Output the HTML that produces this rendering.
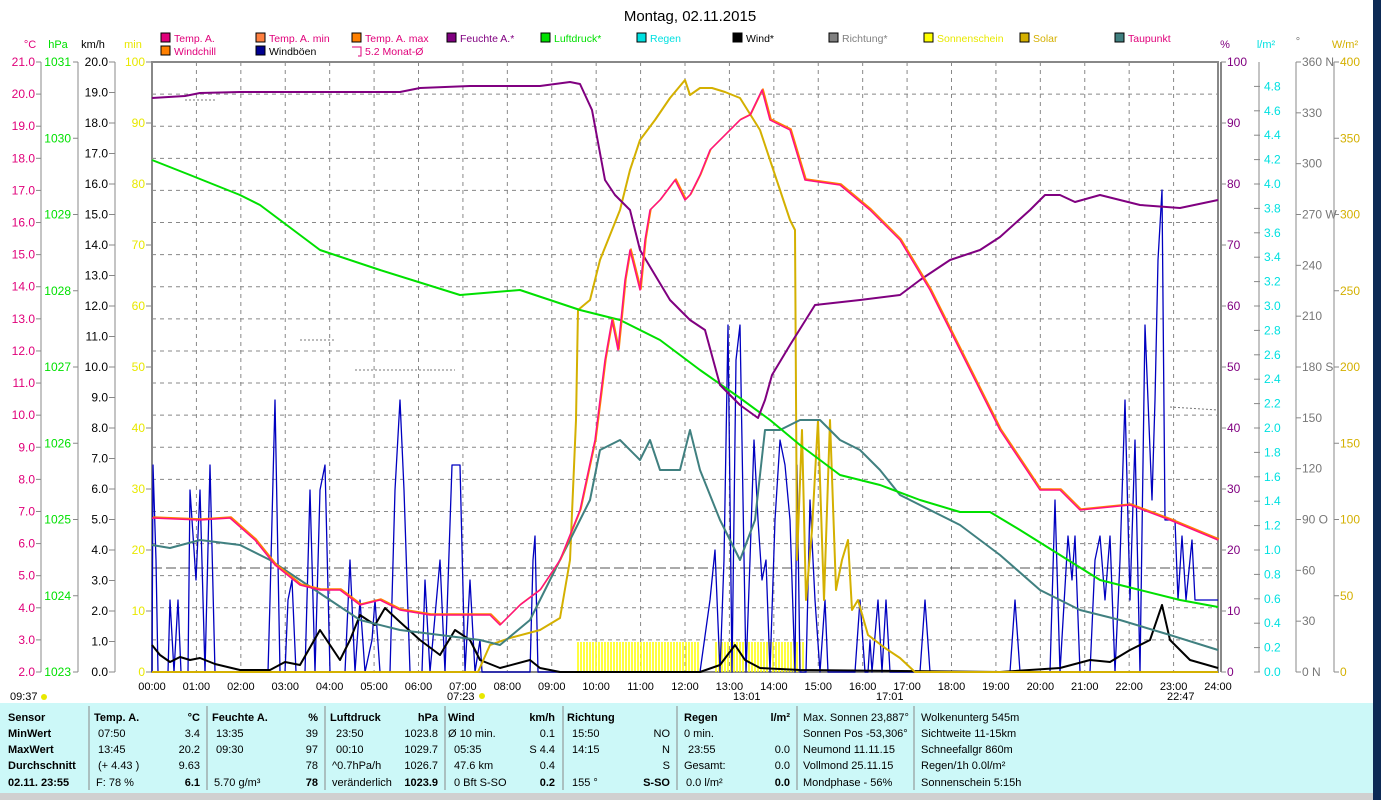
<!DOCTYPE html>
<html><head><meta charset="utf-8"><style>
body{margin:0;width:1381px;height:800px;overflow:hidden;background:#fff;font-family:"Liberation Sans",sans-serif}
svg{display:block}
text{font-family:"Liberation Sans",sans-serif;font-size:11px}
</style></head><body>
<svg id="s" width="1381" height="800" xmlns="http://www.w3.org/2000/svg">
<rect x="0" y="0" width="1381" height="800" fill="#fff"/>
<rect x="1373" y="0" width="8" height="800" fill="#0d2a55"/>
<text x="690" y="21" text-anchor="middle" style="font-size:15px">Montag, 02.11.2015</text>
<g id="g"></g>
</svg>
<script>
const NS="http://www.w3.org/2000/svg",g=document.getElementById('g');
function el(t,a,txt){const e=document.createElementNS(NS,t);for(const k in a)e.setAttribute(k,a[k]);if(txt!==undefined)e.textContent=txt;g.appendChild(e);return e;}
function T(x,y,s,c,anc,extra){return el('text',Object.assign({x:x,y:y,fill:c||'#000','text-anchor':anc||'start'},extra||{}),s);}
const AX={style:'font-size:12px'};
const L=152,R=1218,TOP=62,BOT=672,H=(R-L)/24;
for(let i=1;i<24;i++){const x=L+i*H;el('line',{x1:x,y1:TOP,x2:x,y2:BOT,stroke:'#888','stroke-dasharray':'4,4'});}
for(let i=1;i<19;i++){const y=TOP+i*(BOT-TOP)/19;el('line',{x1:L,y1:y,x2:R,y2:y,stroke:'#888','stroke-dasharray':'4,4'});}
el('line',{x1:L,y1:568,x2:R,y2:568,stroke:'#555','stroke-dasharray':'10,4'});
el('rect',{x:L,y:TOP,width:R-L,height:BOT-TOP,fill:'none',stroke:'#888','stroke-width':2});
el('line',{x1:41,y1:TOP,x2:41,y2:BOT,stroke:'#888'});
for(let i=0;i<=19;i++){const y=TOP+i*(BOT-TOP)/19;el('line',{x1:36,y1:y,x2:41,y2:y,stroke:'#888'});T(35,y+4,(21-i).toFixed(1),'#e0007a','end',AX);}
el('line',{x1:78,y1:TOP,x2:78,y2:BOT,stroke:'#888'});
for(let i=0;i<=8;i++){const y=TOP+i*(BOT-TOP)/8;el('line',{x1:73,y1:y,x2:78,y2:y,stroke:'#888'});T(71,y+4,''+(1031-i),'#00e000','end',AX);}
el('line',{x1:115,y1:TOP,x2:115,y2:BOT,stroke:'#888'});
for(let i=0;i<=20;i++){const y=TOP+i*(BOT-TOP)/20;el('line',{x1:109,y1:y,x2:115,y2:y,stroke:'#888'});T(108,y+4,(20-i).toFixed(1),'#000','end',AX);}
for(let i=0;i<=10;i++){const y=TOP+i*(BOT-TOP)/10;el('line',{x1:146,y1:y,x2:151,y2:y,stroke:'#888'});T(145,y+4,''+(100-i*10),'#e8e800','end',AX);}
T(30,48,'°C','#e0007a','middle');T(58,48,'hPa','#00e000','middle');T(93,48,'km/h','#000','middle');T(133,48,'min','#e8e800','middle');
el('line',{x1:1221,y1:TOP,x2:1221,y2:BOT,stroke:'#888','stroke-width':2});
for(let i=0;i<=10;i++){const y=TOP+i*(BOT-TOP)/10;el('line',{x1:1221,y1:y,x2:1226,y2:y,stroke:'#888'});T(1227,y+4,''+(100-i*10),'#800080','start',AX);}
el('line',{x1:1259,y1:TOP,x2:1259,y2:BOT,stroke:'#888'});
for(let i=1;i<=25;i++){const v=5-i*0.2;const y=TOP+i*(BOT-TOP)/25;el('line',{x1:1254,y1:y,x2:1260,y2:y,stroke:'#888'});T(1264,y+4,Math.abs(v).toFixed(1),'#00e0e0','start',AX);}
el('line',{x1:1296,y1:TOP,x2:1296,y2:BOT,stroke:'#888'});
const dl={360:'N',270:'W',180:'S',90:'O',0:'N'};
for(let i=0;i<=12;i++){const v=360-i*30;const y=TOP+i*(BOT-TOP)/12;el('line',{x1:1296,y1:y,x2:1301,y2:y,stroke:'#888'});T(1302,y+4,v+(dl[v]?' '+dl[v]:''),'#777','start',AX);}
el('line',{x1:1334,y1:TOP,x2:1334,y2:BOT,stroke:'#888'});
for(let i=0;i<=8;i++){const v=400-i*50;const y=TOP+i*(BOT-TOP)/8;el('line',{x1:1334,y1:y,x2:1339,y2:y,stroke:'#888'});T(1340,y+4,v,'#d4b000','start',AX);}
T(1225,48,'%','#800080','middle');T(1266,48,'l/m²','#00e0e0','middle');T(1298,45,'°','#777','middle');T(1345,48,'W/m²','#d4b000','middle');
for(let i=0;i<=24;i++){T(L+i*H,690,(i<10?'0':'')+i+':00','#000','middle');}
T(10,700,'09:37','#000');el('circle',{cx:44,cy:697,r:3,fill:'#e8e800'});
T(447,700,'07:23','#000');el('circle',{cx:482,cy:696,r:3,fill:'#e8e800'});
T(733,700,'13:01','#000');T(876,700,'17:01','#000');T(1167,700,'22:47','#000');
const LS={style:'font-size:10.5px'};
const lg=[[161,'Temp. A.','#e0007a','#e0007a'],[256,'Temp. A. min','#ff8040','#e0007a'],[352,'Temp. A. max','#ff8000','#e0007a'],[447,'Feuchte A.*','#800080','#800080'],[541,'Luftdruck*','#00e000','#00e000'],[637,'Regen','#00e0e0','#00e0e0'],[733,'Wind*','#000','#000'],[829,'Richtung*','#808080','#808080'],[924,'Sonnenschein','#ffff00','#e8e800'],[1020,'Solar','#d4b000','#d4b000'],[1115,'Taupunkt','#408080','#e0007a']];
const lg2=[[161,'Windchill','#ff8000','#e0007a'],[256,'Windböen','#000090','#000']];
lg.forEach(l=>{el('rect',{x:l[0],y:33,width:9,height:9,fill:l[2],stroke:'#000'});T(l[0]+13,42,l[1],l[3],'start',LS);});
lg2.forEach(l=>{el('rect',{x:l[0],y:46,width:9,height:9,fill:l[2],stroke:'#000'});T(l[0]+13,55,l[1],l[3],'start',LS);});
el('path',{d:'M352,47 h9 v9 h-3',fill:'none',stroke:'#e0007a'});T(365,55,'5.2 Monat-Ø','#e0007a','start',LS);
function pl(pts,c,w){el('polyline',{points:pts.map(p=>p.join(',')).join(' '),fill:'none',stroke:c,'stroke-width':w||2,'stroke-linejoin':'round'});}
for(let x=578;x<805;x+=3){if(x>700&&x<714)continue;el('line',{x1:x,y1:642,x2:x,y2:672,stroke:'#ffff00','stroke-width':1.5});}
const gust=[[152,672],[153,465],[156,560],[158,672],[168,672],[170,600],[174,672],[178,600],[181,672],[188,672],[190,490],[196,580],[200,490],[205,672],[210,465],[215,672],[268,672],[270,600],[275,400],[280,672],[285,672],[288,600],[292,580],[296,672],[305,672],[310,490],[315,672],[320,490],[325,465],[330,672],[345,672],[350,560],[355,672],[360,600],[365,672],[372,640],[375,600],[380,672],[390,672],[395,490],[400,400],[404,490],[410,672],[422,672],[425,580],[430,672],[440,560],[445,672],[452,465],[460,465],[465,672],[470,580],[475,672],[480,640],[482,672],[530,672],[533,560],[535,536],[538,672],[700,672],[710,600],[715,550],[720,672],[724,560],[728,325],[732,672],[736,360],[740,325],[743,500],[746,672],[750,560],[754,440],[758,520],[762,580],[766,560],[770,672],[775,520],[780,440],[785,465],[790,520],[795,672],[797,465],[800,672],[806,672],[810,500],[815,600],[820,672],[825,600],[828,672],[855,672],[860,600],[865,672],[868,672],[870,640],[872,672],[878,600],[882,672],[886,600],[890,672],[920,672],[925,600],[930,672],[1010,672],[1015,600],[1020,672],[1050,672],[1055,500],[1060,672],[1068,536],[1072,580],[1075,536],[1080,672],[1090,672],[1095,560],[1100,536],[1105,600],[1110,536],[1115,672],[1120,560],[1125,400],[1130,600],[1135,440],[1140,672],[1145,325],[1148,400],[1152,500],[1155,400],[1158,260],[1162,190],[1165,520],[1175,520],[1178,600],[1182,536],[1186,600],[1192,540],[1195,600],[1218,600]];
pl(gust,'#0000c0',1.3);
pl([[152,645],[160,655],[170,662],[180,657],[190,660],[200,658],[215,664],[240,670],[270,670],[285,662],[300,665],[320,630],[340,660],[350,640],[360,615],[375,625],[385,608],[400,622],[420,640],[440,655],[455,630],[470,640],[480,660],[500,668],[530,660],[540,668],[560,672],[700,672],[720,665],[735,645],[745,660],[760,668],[800,670],[1000,672],[1060,668],[1090,660],[1110,662],[1130,650],[1150,640],[1162,605],[1170,640],[1190,660],[1218,668]],'#000',2);
pl([[152,672],[478,672],[490,645],[510,638],[540,630],[560,618],[570,560],[576,420],[578,310],[590,300],[600,260],[610,235],[620,210],[630,170],[640,140],[655,120],[670,98],[685,80],[690,95],[700,88],[712,88],[725,92],[740,98],[760,130],[780,190],[790,220],[795,230],[797,560],[802,430],[806,600],[812,530],[818,420],[824,600],[830,420],[836,590],[842,560],[848,540],[852,610],[858,600],[868,635],[885,648],[900,658],[915,672],[1218,672]],'#d4b000',2);
pl([[152,545],[170,548],[200,540],[240,545],[270,560],[300,580],[330,600],[360,620],[400,630],[440,635],[480,640],[500,645],[530,620],[560,560],[580,520],[590,500],[600,450],[620,440],[640,460],[650,440],[660,470],[680,470],[690,430],[700,470],[720,520],[740,560],[755,520],[765,430],[780,430],[800,420],[820,420],[840,440],[860,450],[880,470],[900,495],[920,505],[960,525],[1000,555],[1040,590],[1080,610],[1120,620],[1170,635],[1218,650]],'#408080',2);
pl([[152,160],[190,175],[240,195],[260,205],[320,250],[380,270],[460,295],[520,290],[580,310],[620,320],[660,340],[700,370],[740,398],[770,420],[800,445],[840,475],[880,485],[920,500],[960,512],[990,512],[1020,530],[1060,555],[1100,580],[1140,590],[1180,600],[1218,607]],'#00e000',2);
pl([[152,98],[185,96],[200,93],[240,92],[300,92],[380,92],[400,92],[420,88],[470,86],[540,86],[570,82],[580,84],[592,110],[605,180],[615,195],[630,210],[640,250],[655,275],[670,300],[690,320],[705,330],[720,385],[740,405],[758,418],[765,400],[772,375],[790,345],[815,305],[860,300],[900,295],[920,280],[950,260],[980,250],[1000,237],[1030,210],[1045,195],[1060,195],[1075,202],[1100,195],[1140,205],[1180,208],[1218,200]],'#800080',2);
const tp=[[152,518],[200,520],[230,518],[255,540],[275,565],[300,585],[320,590],[340,590],[360,605],[380,600],[400,610],[430,615],[470,615],[490,615],[500,625],[520,605],[540,590],[560,560],[580,510],[595,440],[605,360],[612,320],[618,350],[625,280],[630,250],[640,290],[645,240],[650,210],[660,200],[675,180],[685,200],[690,195],[700,175],[710,150],[720,140],[730,130],[740,120],[750,115],[762,90],[770,120],[790,130],[805,180],[840,185],[870,210],[900,240],[930,290],[970,370],[1000,430],[1040,490],[1060,490],[1080,510],[1130,505],[1170,520],[1218,540]];
pl(tp.map(p=>[p[0]+1,p[1]-1]),'#ff8000',1.5);pl(tp,'#ff1080',1.5);
[[185,100,215],[300,340,335],[355,370,430],[430,370,455]].forEach(d=>el('line',{x1:d[0],y1:d[1],x2:d[2],y2:d[1],stroke:'#777','stroke-dasharray':'2,2'}));
el('line',{x1:1170,y1:407,x2:1218,y2:410,stroke:'#777','stroke-dasharray':'2,2'});
el('rect',{x:0,y:703,width:1373,height:90,fill:'#ccf8f8'});
el('rect',{x:0,y:793,width:1373,height:7,fill:'#d0d0d0'});
[89,207,325,445,563,677,797,914].forEach(x=>el('line',{x1:x,y1:706,x2:x,y2:790,stroke:'#888'}));
const ry=[721,737,753,769,786];
const b={'font-weight':'bold'};
['Sensor','MinWert','MaxWert','Durchschnitt','02.11. 23:55'].forEach((s,i)=>T(8,ry[i],s,'#000','start',b));
function col(x1,x2,h1,h2,rows){T(x1,ry[0],h1,'#000','start',b);T(x2,ry[0],h2,'#000','end',b);rows.forEach((r,i)=>{T(x1+(r[2]||0),ry[i+1],r[0]);T(x2,ry[i+1],r[1],'#000','end',i==3?b:{});});}
col(94,200,'Temp. A.','°C',[['07:50','3.4',4],['13:45','20.2',4],['(+ 4.43 )','9.63',4],['F: 78 %','6.1',2]]);
col(212,318,'Feuchte A.','%',[['13:35','39',4],['09:30','97',4],['','78'],['5.70 g/m³','78',2]]);
col(330,438,'Luftdruck','hPa',[['23:50','1023.8',6],['00:10','1029.7',6],['^0.7hPa/h','1026.7',2],['veränderlich','1023.9',2]]);
col(448,555,'Wind','km/h',[['Ø 10 min.','0.1'],['05:35','S 4.4',6],['47.6 km','0.4',6],['0 Bft S-SO','0.2',6]]);
col(567,670,'Richtung','',[['15:50','NO',5],['14:15','N',5],['','S'],['155 °','S-SO',5]]);
col(684,790,'Regen','l/m²',[['0 min.',''],['23:55','0.0',4],['Gesamt:','0.0'],['0.0 l/m²','0.0',2]]);
['Max. Sonnen 23,887°','Sonnen Pos  -53,306°','Neumond     11.11.15','Vollmond     25.11.15','Mondphase       - 56%'].forEach((s,i)=>T(803,ry[i],s,'#000','start',{'xml:space':'preserve'}));
['Wolkenunterg   545m','Sichtweite   11-15km','Schneefallgr    860m','Regen/1h     0.0l/m²','Sonnenschein  5:15h'].forEach((s,i)=>T(921,ry[i],s,'#000','start',{'xml:space':'preserve'}));
</script>
</body></html>
